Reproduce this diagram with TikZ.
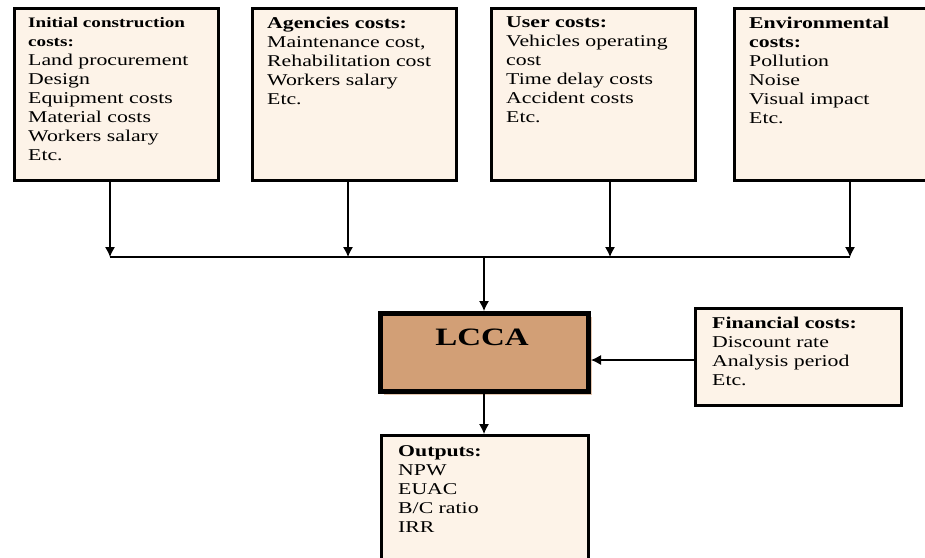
\documentclass[tikz,border=0pt]{standalone}
\usepackage{fontspec}
\setmainfont{Liberation Serif}[FakeStretch=1.32]
\usetikzlibrary{arrows.meta,positioning,shadows}

\definecolor{boxcream}{RGB}{253,243,232}
\definecolor{lccatan}{RGB}{210,159,118}

\newcommand{\smallhead}[1]{{\fontsize{14.5}{19}\selectfont\bfseries #1}}

\tikzset{
  costbox/.style={draw, line width=2.5pt, fill=boxcream, anchor=north west},
  boxtext/.style={anchor=north west, align=left, inner sep=0pt, font=\fontsize{16.5}{19}\selectfont},
  conn/.style={line width=1.1pt},
  arr/.style={conn, -{Latex[length=10pt,width=10pt]}}
}

\begin{document}
\begin{tikzpicture}[x=1pt, y=-1pt]
        \useasboundingbox (0,0) rectangle (925,557);
        \begin{scope}
        \clip (0,0) rectangle (925,557);

        % Cost boxes (top row)
        \node (init) at (13,7) [costbox, minimum width=204pt, minimum height=172pt] {};
        \node (agency) at (251,7) [costbox, minimum width=204pt, minimum height=172pt] {};
        \node (user) at (490,7) [costbox, minimum width=204pt, minimum height=172pt] {};
        \node (env) at (733,7) [costbox, minimum width=204pt, minimum height=172pt] {};

        \node (init-txt) at (28,17) [boxtext] {\smallhead{Initial construction}\\\smallhead{costs:}\\Land procurement\\Design\\Equipment costs\\Material costs\\Workers salary\\Etc.};
        \node (agency-txt) at (267,16.5) [boxtext] {\textbf{Agencies costs:}\\Maintenance cost,\\Rehabilitation cost\\Workers salary\\Etc.};
        \node (user-txt) at (506,16.5) [boxtext] {\textbf{User costs:}\\Vehicles operating\\cost\\Time delay costs\\Accident costs\\Etc.};
        \node (env-txt) at (749,16.5) [boxtext] {\textbf{Environmental}\\\textbf{costs:}\\Pollution\\Noise\\Visual impact\\Etc.};

        % Middle row
        \node (lcca) at (378,311) [anchor=north west, draw, line width=5pt, fill=lccatan, minimum width=208pt, minimum height=78pt,
          drop shadow={shadow xshift=3pt, shadow yshift=-3pt, fill=lccatan!60, opacity=1}] {};
        \node (lcca-txt) at (482,345) [anchor=base, inner sep=0pt, font=\fontsize{25}{30}\selectfont\bfseries] {LCCA};

        \node (fin) at (694,307) [costbox, minimum width=206pt, minimum height=97pt] {};
        \node (fin-txt) at (712,316.5) [boxtext] {\textbf{Financial costs:}\\Discount rate\\Analysis period\\Etc.};

        % Output box (bottom)
        \node (out) at (380,434) [costbox, minimum width=207pt, minimum height=140pt] {};
        \node (out-txt) at (398,445.5) [boxtext] {\textbf{Outputs:}\\NPW\\EUAC\\B/C ratio\\IRR};

        % Collector line
        \coordinate (j1) at (110,257);
        \coordinate (j2) at (348,257);
        \coordinate (j3) at (610,257);
        \coordinate (j4) at (850,257);
        \coordinate (jm) at (484,257);

        % Edges (cost boxes to collector)
        \draw[arr] (init.south -| j1) -- (j1);
        \draw[arr] (agency.south -| j2) -- (j2);
        \draw[arr] (user.south -| j3) -- (j3);
        \draw[arr] (env.south -| j4) -- (j4);
        \draw[conn] (j1) -- (j4);

        % Edges (into and out of LCCA)
        \draw[arr] (jm) -- (lcca.north -| jm);
        \draw[arr] (fin.west |- 0,360) -- (lcca.east |- 0,360);
        \draw[arr] (lcca.south -| jm) -- (out.north -| jm);
        \end{scope}
      \end{tikzpicture}
\end{document}
